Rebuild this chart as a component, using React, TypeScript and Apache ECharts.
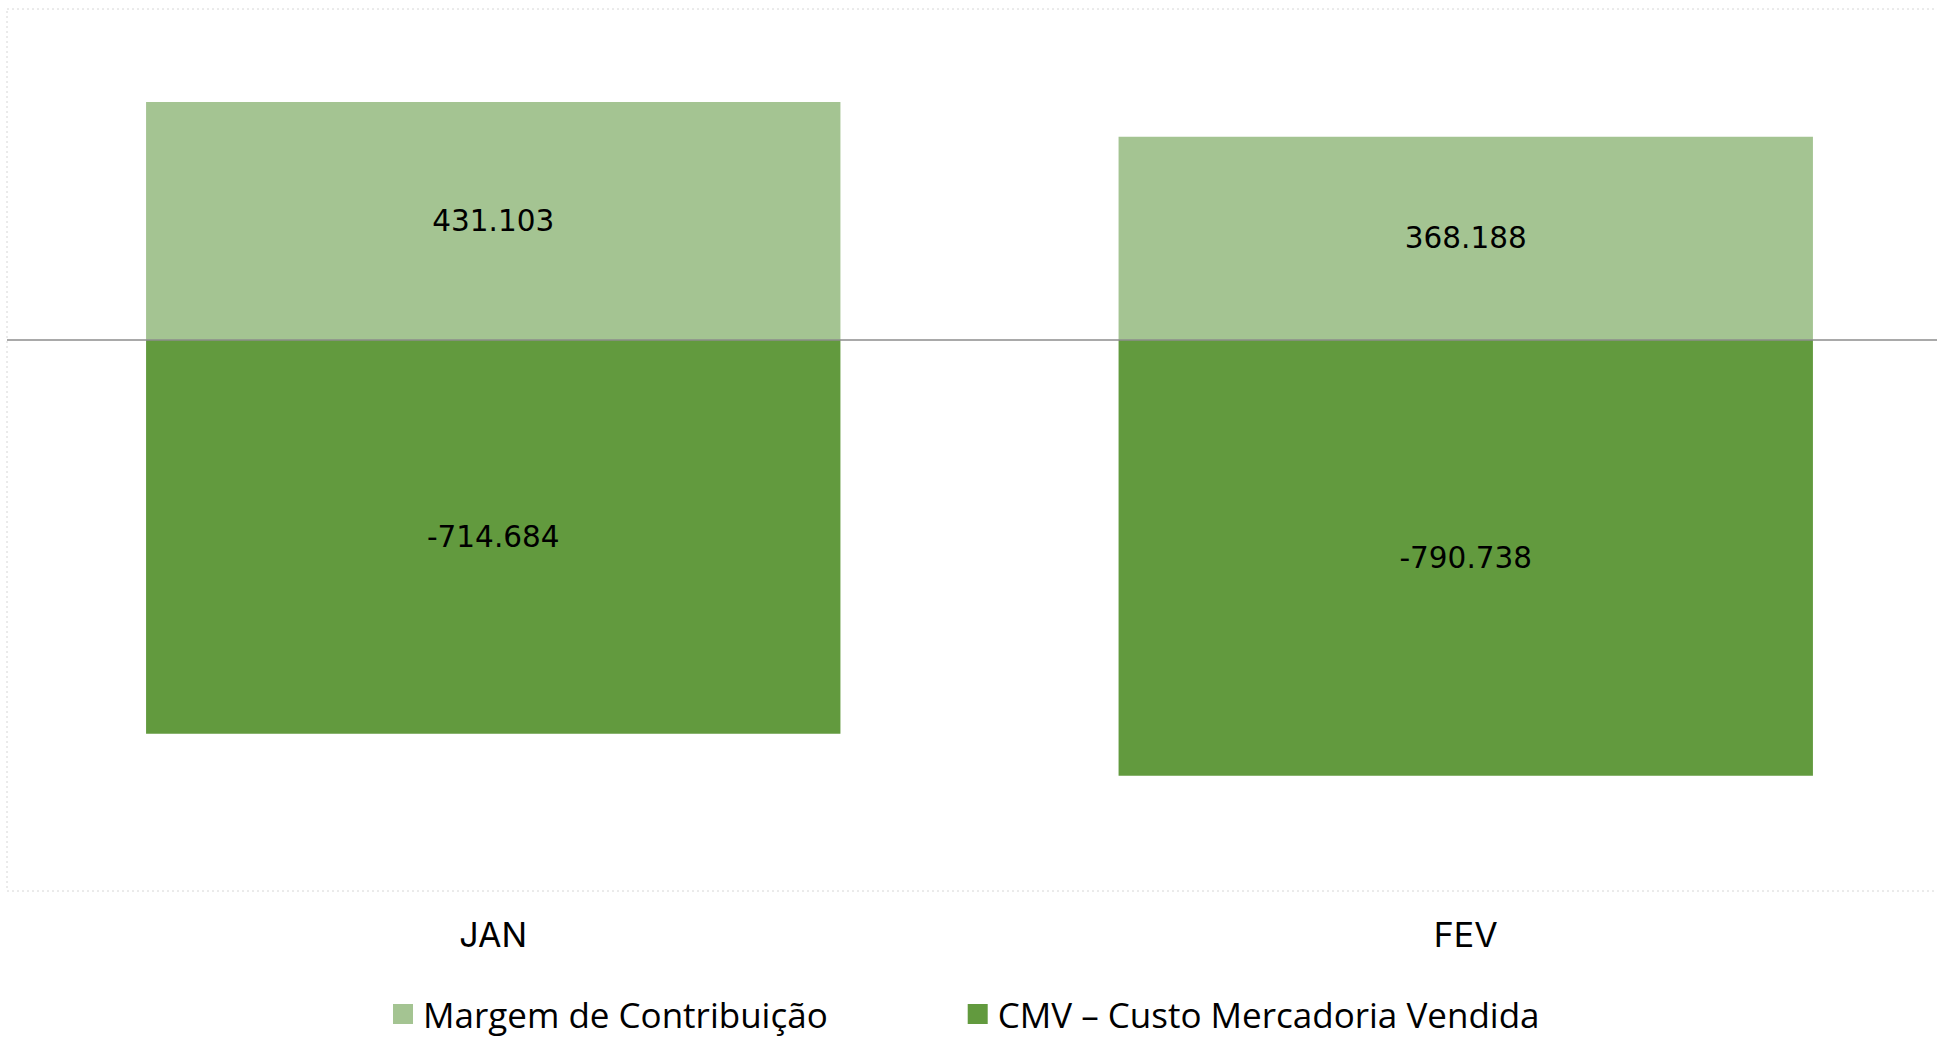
import React, { useEffect, useRef } from "react";
import * as echarts from "echarts";

const categories = ["JAN", "FEV"];
const margemValues = [431103, 368188];
const cmvValues = [-714684, -790738];
const seriesNames = ["Margem de Contribuição", "CMV – Custo Mercadoria Vendida"];
const seriesColors = ["#A4C492", "#629A3E"];

const fmt = (v: number) => v.toLocaleString("pt-BR");

export default function App() {
  const ref = useRef<HTMLDivElement>(null);
  useEffect(() => {
    if (!ref.current) return;
    const chart = echarts.init(ref.current, null, { renderer: "svg" });
    const labelStyle = {
      show: true,
      position: "inside" as const,
      color: "#000",
      fontFamily: "DejaVu Sans",
      fontSize: 29.5,
      formatter: (p: any) => fmt(p.value),
    };
    chart.setOption({
      animation: false,
      backgroundColor: "#fff",
      grid: {
        show: true,
        left: 7,
        top: 9,
        width: 1945,
        height: 882,
        borderColor: "#d6d6d6",
        borderWidth: 1,
        borderType: [2, 3],
        backgroundColor: "transparent",
      },
      legend: {
        left: 388,
        top: 991,
        itemWidth: 20,
        itemHeight: 20,
        itemGap: 140,
        icon: "rect",
        textStyle: {
          fontFamily: "Open Sans",
          fontSize: 35,
          lineHeight: 36,
          color: "#000",
          padding: [0, 0, 0, 5],
        },
        data: seriesNames,
      },
      xAxis: {
        type: "category",
        data: categories,
        axisLine: { show: false },
        axisTick: { show: false },
        splitLine: { show: false },
        axisLabel: {
          color: "#000",
          fontFamily: "Inter",
          fontSize: 34,
          margin: 26,
        },
      },
      yAxis: {
        type: "value",
        min: -1000000,
        max: 600000,
        show: false,
        splitLine: { show: false },
      },
      series: [
        {
          name: seriesNames[0],
          type: "bar",
          stack: "total",
          data: margemValues,
          barCategoryGap: "28.6%",
          itemStyle: { color: seriesColors[0] },
          label: labelStyle,
          markLine: {
            silent: true,
            symbol: "none",
            label: { show: false },
            lineStyle: { color: "#8c8c8c", width: 1.5, type: "solid" },
            data: [{ yAxis: 0 }],
          },
        },
        {
          name: seriesNames[1],
          type: "bar",
          stack: "total",
          data: cmvValues,
          barCategoryGap: "28.6%",
          itemStyle: { color: seriesColors[1] },
          label: labelStyle,
        },
      ],
    });
    return () => chart.dispose();
  }, []);
  return (
    <div style={{ position: "fixed", left: 0, top: 0, width: 1937, height: 1038, overflow: "hidden", background: "#fff" }}>
      <div ref={ref} style={{ width: 1960, height: 1038 }} />
    </div>
  );
}
